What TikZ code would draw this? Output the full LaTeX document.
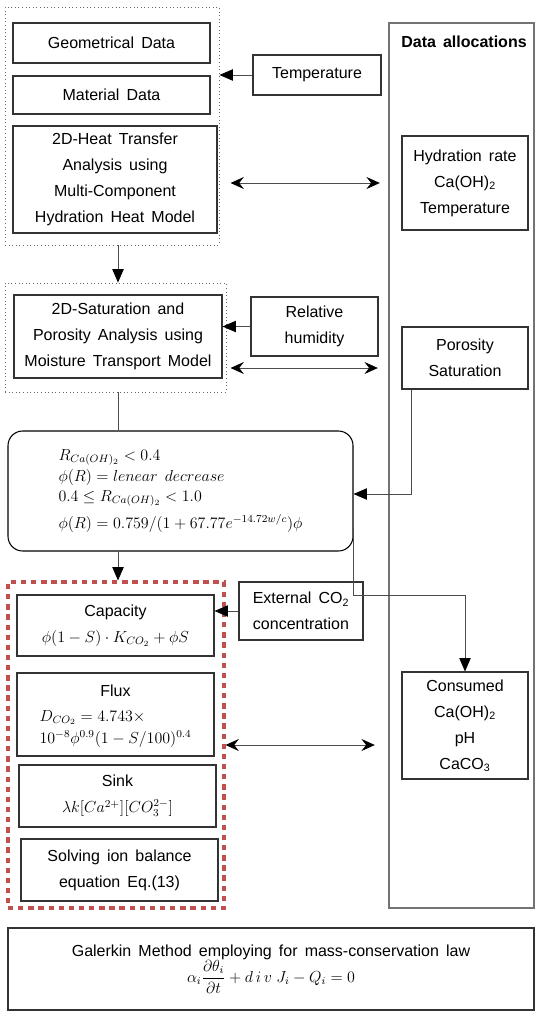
\documentclass[tikz,border=0pt]{standalone}
\usepackage{fontspec}
\setmainfont{Liberation Sans}[WordSpace=1.6]
\usepackage{amsmath}
\usepackage{amssymb}
\usetikzlibrary{arrows.meta,calc,positioning}
\definecolor{frameRed}{RGB}{192,80,77}

\begin{document}
\begin{tikzpicture}[x=0.75pt,y=0.75pt,font=\fontsize{12}{19.5}\selectfont,
    boxwh/.style 2 args={minimum width=#1*0.75pt, minimum height=#2*0.75pt},
    box/.style={draw=black!80, line width=0.8pt, align=center, inner sep=1pt},
    dotframe/.style={draw=black!60, dotted, line width=0.7pt},
    redframe/.style={draw=frameRed, dash pattern=on 4pt off 3.6pt, line width=2.3pt},
    allocbox/.style={draw=black!55, line width=1.8pt},
    conn/.style={draw=black!70, line width=0.6pt},
    arr/.style={conn, -{Triangle[length=10pt,width=8.5pt,color=black]}},
    dblarr/.style={conn, {Stealth[length=10pt,width=9pt,inset=3.5pt,color=black]}-{Stealth[length=10pt,width=9pt,inset=3.5pt,color=black]}}]
    \useasboundingbox (0,0) rectangle (536,-1012);

    \node[dotframe, boxwh={214}{238}] (frameA) at (112,-126) {};
    \node[box, boxwh={197}{40}] (geo) at (111.5,-43) {Geometrical Data};
    \node[box, boxwh={197}{38}] (mat) at (111.5,-95) {Material Data};
    \node[box, boxwh={204}{107}] (heat) at (115,-179.5) {2D-Heat Transfer\\Analysis using\\Multi-Component\\Hydration Heat Model};
    \node[box, boxwh={128}{40}] (temp) at (317,-75) {Temperature};

    \node[allocbox, boxwh={145}{885}] (alloc) at (461.5,-465.5) {};
    \draw[white, line width=0.5pt] (alloc.south west) rectangle (alloc.north east);
    \node[font=\fontsize{12}{19.5}\selectfont\bfseries] (allocTitle) at (464,-42) {Data allocations};
    \node[box, boxwh={126}{94}] (hyd) at (465,-183) {Hydration rate\\Ca(OH)\textsubscript{2}\\Temperature};

    \node[dotframe, boxwh={221}{109}] (frameB) at (115.5,-337.5) {};
    \node[box, boxwh={208}{83}] (sat) at (118,-336.5) {2D-Saturation and\\Porosity Analysis using\\Moisture Transport Model};
    \node[box, boxwh={127}{59}] (rh) at (314.5,-326.5) {Relative\\humidity};
    \node[box, boxwh={126}{62}] (por) at (465,-358) {Porosity\\Saturation};

    \node[box, rounded corners=11pt, boxwh={345}{120}, align=left, draw=black] (rule) at (180.5,-491)
        {$R_{Ca(OH)_2}<0.4$\\[-3.5pt]
         $\phi(R)=lenear\ decrease$\\[-4.5pt]
         $0.4\le R_{Ca(OH)_2}<1.0$\\[1pt]
         $\phi(R)=0.759/(1+67.77e^{-14.72w/c})\phi$};

    \node[redframe, boxwh={216}{326}] (frameC) at (116,-745) {};
    \node[box, boxwh={197}{61}] (cap) at (115.5,-625.5) {Capacity\\$\phi(1-S)\cdot K_{CO_2}+\phi S$};
    \node[box, boxwh={197}{83}] (flux) at (115.5,-714.5)
        {\begin{tabular}{@{}l@{}}\multicolumn{1}{@{}c@{}}{Flux}\\[-1pt]
         $D_{CO_2}=4.743\times$\\[-3pt]
         $10^{-8}\phi^{0.9}(1-S/100)^{0.4}$\end{tabular}};
    \node[box, boxwh={197}{62}] (sink) at (117.5,-796) {Sink\\$\lambda k[Ca^{2+}][CO_3^{2-}]$};
    \node[box, boxwh={197}{62}] (solve) at (119.5,-870) {Solving ion balance\\equation Eq.(13)};
    \node[box, boxwh={124}{58}] (ext) at (301,-611) {External CO\textsubscript{2}\\concentration};
    \node[box, boxwh={126}{107}] (cons) at (465,-725.5) {Consumed\\Ca(OH)\textsubscript{2}\\pH\\CaCO\textsubscript{3}};

    \node[box, boxwh={526}{82}] (gal) at (271,-969)
        {Galerkin Method employing for mass-conservation law\\
         $\alpha_i\dfrac{\partial\theta_i}{\partial t}+d\,i\,v\;J_i-Q_i=0$};

    \draw[arr] (temp.west) -- (temp.west -| frameA.east);
    \draw[dblarr] ($(heat.east)+(13,-3.5)$) -- ($(heat.east -| alloc.west)+(-8,-3.5)$);
    \draw[arr] (sat.north |- frameA.south) -- (sat.north |- frameB.north);
    \draw[arr] (rh.west) -- (rh.west -| sat.east);
    \draw[dblarr] ($(sat.east)+(8,-31.5)$) -- ($(sat.east -| alloc.west)+(-10,-31.5)$);
    \draw[conn] (sat.south |- frameB.south) -- (sat.south |- rule.north);
    \draw[arr] ($(por.south)+(-54,0)$) |- ($(rule.east)+(0,-3)$);
    \draw[arr] (sat.south |- rule.south) -- (sat.south |- frameC.north);
    \draw[arr] ($(rule.east)+(0,-37)$) -- ++(0,-67) -| (cons.north);
    \draw[arr] (ext.west) -- (ext.west -| cap.east);
    \draw[dblarr] ($(flux.east)+(11,-30.5)$) -- ($(flux.east -| alloc.west)+(-13,-30.5)$);
\end{tikzpicture}
\end{document}
